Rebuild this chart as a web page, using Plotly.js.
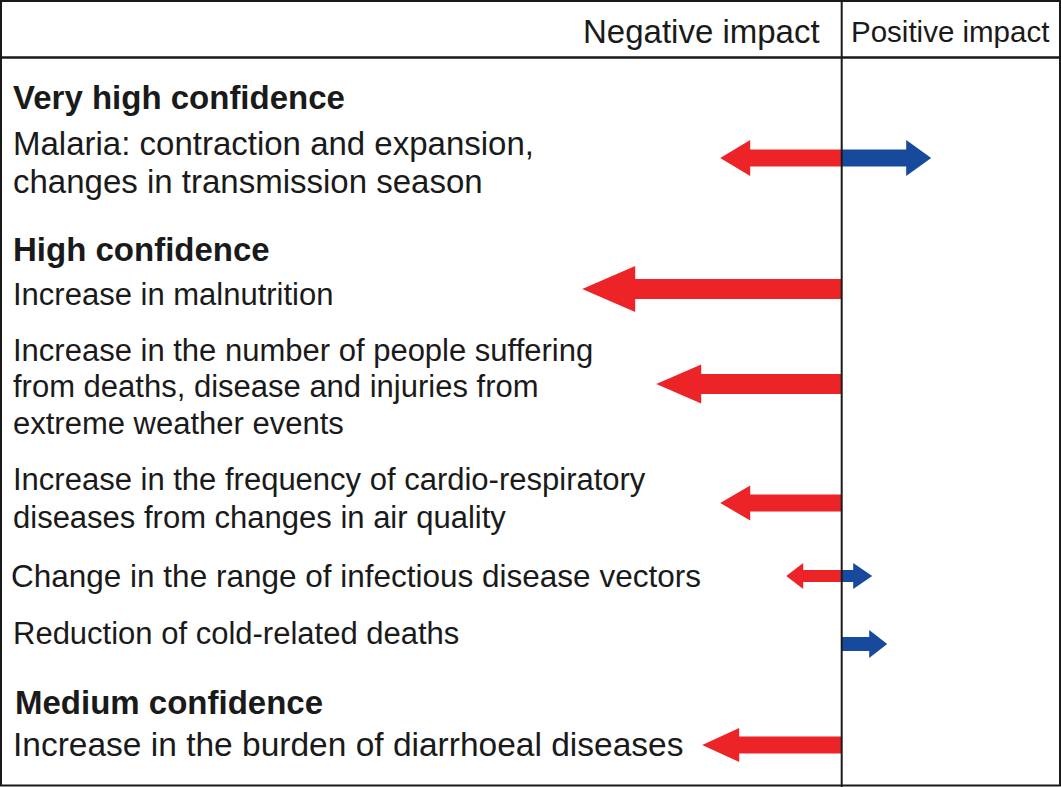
<!DOCTYPE html>
<html>
<head>
<meta charset="utf-8">
<script src="https://cdn.plot.ly/plotly-3.0.1.min.js"></script>
<style>
  html, body { margin: 0; padding: 0; background: #ffffff; }
  #chart { width: 1061px; height: 787px; }
</style>
</head>
<body>
<div id="chart"></div>
<script>
// ---------------- DATA ----------------
const headers = ["Negative impact", "Positive impact"];
const groups = ["Very high confidence", "High confidence", "Medium confidence"];
const items = [
  "Malaria: contraction and expansion,<br>changes in transmission season",
  "Increase in malnutrition",
  "Increase in the number of people suffering<br>from deaths, disease and injuries from<br>extreme weather events",
  "Increase in the frequency of cardio-respiratory<br>diseases from changes in air quality",
  "Change in the range of infectious disease vectors",
  "Reduction of cold-related deaths",
  "Increase in the burden of diarrhoeal diseases"
];
const itemGroup = [0, 1, 1, 1, 1, 1, 2];
// relative size of impact (arrow length), negative to the left, positive to the right
const negativeImpact = [-122, -260, -186, -122, -56, 0, -140];
const positiveImpact = [89, 0, 0, 0, 30, 45, 0];

// ---------------- LAYOUT / STYLE ----------------
const W = 1061, H = 787;
const RED = "#EC2327", BLUE = "#174A9C", INK = "#1a1a1a";
const FONT = '"Liberation Sans", Arial, Helvetica, sans-serif';
const arrowY     = [158, 289, 384, 503, 576, 644, 745];
const shaftW     = [17, 20, 20, 17, 12, 14, 17];
const headW      = [36, 46, 39, 35, 26, 28, 34];
const headLenNeg = [30, 53, 45, 30, 17, 0, 37];
const headLenPos = [25, 0, 0, 0, 19, 18, 0];
const TEXT_PAD = 1; // annotation inner offset in px

// text lines: [text, bold, left px, right px, centre y]
const groupText = [
  [groups[0], true, 14, 348, 97],
  [groups[1], true, 14, 272, 249],
  [groups[2], true, 16, 325, 702]
];
const itemLines = [
  [0, 0, 14, 537, 143], [0, 1, 14, 486, 181],
  [1, 0, 14, 335, 294],
  [2, 0, 14, 598, 350], [2, 1, 14, 543, 386], [2, 2, 14, 347, 423],
  [3, 0, 14, 650, 479], [3, 1, 14, 510, 517],
  [4, 0, 12, 697, 576],
  [5, 0, 14, 462, 633],
  [6, 0, 14, 680, 744]
];

const cv = document.createElement("canvas").getContext("2d");
function fit(text, bold, width) {
  cv.font = (bold ? "bold " : "") + "100px " + FONT;
  const w = cv.measureText(text).width;
  if (!w) return 32;
  return Math.round(100 * width / w * 2) / 2;
}

const traces = [];
function arrowTrace(len, y, s, hw, hl, color) {
  const dir = Math.sign(len);
  const b = len - dir * hl;
  const xs = [0, b, b, len, b, b, 0, 0];
  const ys = [y - s / 2, y - s / 2, y - hw / 2, y, y + hw / 2, y + s / 2, y + s / 2, y - s / 2];
  return {
    type: "scatter", mode: "lines", x: xs, y: ys, fill: "toself",
    fillcolor: color, line: { width: 0, color: color }, hoverinfo: "skip", showlegend: false
  };
}
for (let i = 0; i < items.length; i++) {
  if (negativeImpact[i] < 0) traces.push(arrowTrace(negativeImpact[i] + 0.5, arrowY[i], shaftW[i], headW[i], headLenNeg[i], RED));
  if (positiveImpact[i] > 0) traces.push(arrowTrace(positiveImpact[i] + 0.5, arrowY[i], shaftW[i], headW[i], headLenPos[i], BLUE));
}

const annotations = [];
function addText(text, bold, left, right, y, anchor) {
  const size = fit(text, bold, right - left);
  const xpx = anchor === "right" ? right : left - TEXT_PAD;
  annotations.push({
    xref: "paper", yref: "y",
    x: xpx / W, y: y,
    xanchor: anchor || "left", yanchor: "middle",
    text: bold ? "<b>" + text + "</b>" : text,
    showarrow: false, borderpad: 0, borderwidth: 0,
    font: { family: FONT, size: size, color: INK }
  });
}
addText(headers[0], false, 582, 820, 31, "right");
addText(headers[1], false, 852, 1050, 31, "left");
groupText.forEach(g => addText(g[0], g[1], g[2], g[3], g[4]));
itemLines.forEach(l => {
  const txt = items[l[0]].split("<br>")[l[1]];
  addText(txt, false, l[2], l[3], l[4]);
});

const shapes = [
  { type: "rect", xref: "paper", yref: "paper", x0: 1 / W, x1: (W - 1) / W, y0: 1.5 / H, y1: 1 - 1 / H,
    line: { color: INK, width: 2 } },
  { type: "line", xref: "paper", yref: "y", x0: 0, x1: 1, y0: 57.5, y1: 57.5, line: { color: INK, width: 2.5 } },
  { type: "line", xref: "x", yref: "paper", x0: 0, x1: 0, y0: 0, y1: 1, line: { color: INK, width: 2 } }
];

const layout = {
  width: W, height: H,
  margin: { l: 0, r: 0, t: 0, b: 0, pad: 0 },
  paper_bgcolor: "#ffffff", plot_bgcolor: "#ffffff",
  xaxis: { range: [-841.7, W - 841.7], visible: false, fixedrange: true },
  yaxis: { range: [H, 0], visible: false, fixedrange: true },
  showlegend: false,
  annotations: annotations,
  shapes: shapes
};

Plotly.newPlot("chart", traces, layout, { staticPlot: true, displayModeBar: false });
</script>
</body>
</html>
